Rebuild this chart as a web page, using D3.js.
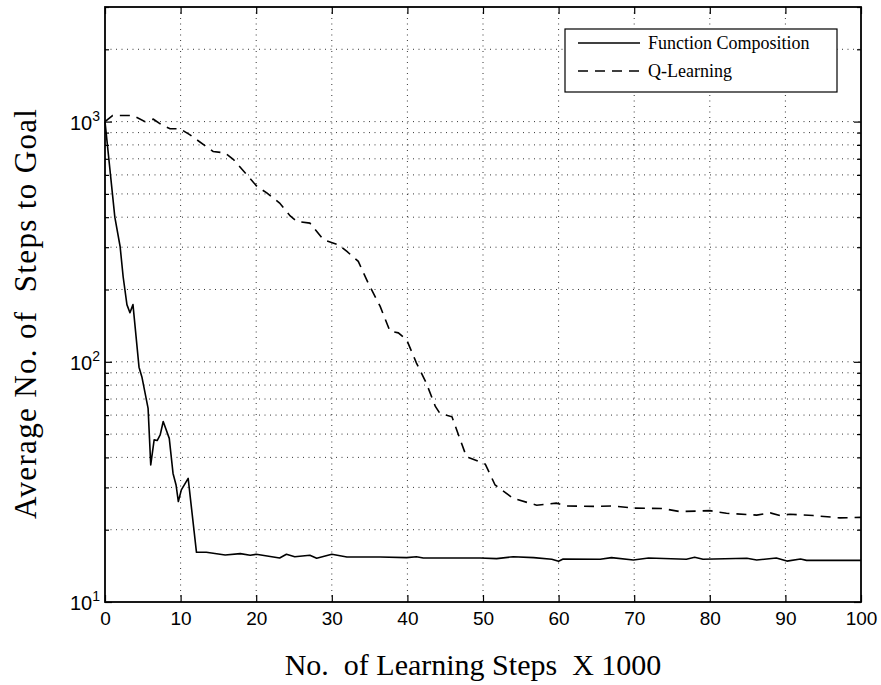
<!DOCTYPE html>
<html><head><meta charset="utf-8">
<script src="https://cdn.jsdelivr.net/npm/d3@7"></script>
<style>
html,body{margin:0;padding:0;background:#fff;}
svg{display:block;}
text{white-space:pre;}
</style></head>
<body>
<svg id="chart" width="881" height="685"></svg>
<script>
// ---- data ----
const fcX = [0, 1.3, 2.0, 2.4, 2.9, 3.3, 3.7, 4.5, 4.9, 5.7, 6.05, 6.5, 6.9, 7.3, 7.7, 8.5, 9.0, 9.4, 9.7, 10.1, 11.0, 12.1, 13.4, 15.9, 17.9, 19.2, 20, 23.1, 24, 25.1, 27.1, 28, 30, 32, 36.4, 39.9, 41.2, 42.1, 49.6, 51.8, 54, 56.7, 59.1, 60, 60.6, 65.5, 67, 69.9, 71.9, 76.9, 78, 79.1, 84.9, 86.2, 88.8, 90.2, 92, 92.8, 96.3, 100];
const fcY = [1000, 400, 302, 226, 173, 160, 173, 95, 86, 64, 37.2, 47.3, 47, 49.6, 56.4, 48, 34.3, 30.7, 26.2, 29.3, 32.7, 16.1, 16.1, 15.7, 15.9, 15.65, 15.8, 15.25, 15.8, 15.44, 15.65, 15.2, 15.8, 15.4, 15.4, 15.3, 15.44, 15.25, 15.25, 15.15, 15.44, 15.3, 15.06, 14.77, 15.1, 15.06, 15.3, 14.96, 15.25, 15.06, 15.35, 15.06, 15.2, 14.96, 15.25, 14.8, 15.1, 14.9, 14.9, 14.9];
const qlX = [0, 1, 3.7, 5.3, 6.4, 7.5, 8.6, 9.9, 11.2, 14.3, 15.9, 17, 20.1, 21.4, 23.1, 24.5, 25.4, 27.1, 28.9, 30.9, 32, 33.5, 34.8, 36.4, 37.7, 38.8, 39.9, 41.2, 42.5, 43.7, 44.3, 45.9, 47, 47.8, 49.4, 50.3, 51.6, 54, 57.1, 59.7, 61, 65, 67.2, 69.9, 73.8, 76, 80, 82.2, 86.2, 88, 89.3, 90.6, 93.7, 97.2, 100];
const qlY = [1000, 1060, 1060, 1000, 1023, 970, 934, 934, 883, 751, 740, 695, 537, 505, 458, 405, 384, 378, 322, 307, 288, 262, 213, 170, 134, 132, 123.6, 98.8, 81.5, 65.2, 61, 59, 47.3, 40.3, 38.5, 37.5, 30.7, 27.0, 25.3, 25.8, 25.1, 25.0, 25.1, 24.6, 24.5, 23.8, 24.0, 23.4, 23.0, 23.5, 22.9, 23.2, 22.9, 22.4, 22.5];
const xTicks = [0, 10, 20, 30, 40, 50, 60, 70, 80, 90, 100];
const yMajorTicks = [10, 100, 1000];
const yExponents = ["1", "2", "3"];
const seriesNames = ["Function Composition", "Q-Learning"];
const xLabel = "No.  of Learning Steps  X 1000";
const yLabel = "Average No. of  Steps to Goal";

// ---- layout ----
const L = 105, R = 861, T = 7, B = 602;
const svg = d3.select("#chart");
const x = d3.scaleLinear().domain([0, 100]).range([L, R]);
const y = d3.scaleLog().domain([10, 3000]).range([B, T]);

// minor log ticks
const yMinor = [];
for (let d = 10; d < 3000; d *= 10) for (let k = 2; k <= 9; k++) { const v = k * d; if (v <= 3000) yMinor.push(v); }

// grid
const grid = svg.append("g").attr("stroke", "#000").attr("stroke-width", 0.8).attr("stroke-dasharray", "1,4.5").attr("fill", "none");
xTicks.slice(1, -1).forEach(v => grid.append("line").attr("x1", x(v)).attr("x2", x(v)).attr("y1", B).attr("y2", T));
yMajorTicks.concat(yMinor).filter(v => v > 10 && v < 3000).forEach(v => grid.append("line").attr("x1", L).attr("x2", R).attr("y1", y(v)).attr("y2", y(v)));

// data lines
const line = d3.line().x(d => x(d[0])).y(d => y(d[1]));
svg.append("path").datum(d3.zip(fcX, fcY)).attr("d", line).attr("fill", "none").attr("stroke", "#000").attr("stroke-width", 1.6).attr("stroke-linejoin", "round");
svg.append("path").datum(d3.zip(qlX, qlY)).attr("d", line).attr("fill", "none").attr("stroke", "#000").attr("stroke-width", 1.6).attr("stroke-dasharray", "10,7");

// axes (ticks inward)
const fontTick = "'Liberation Sans', Arial, Helvetica, sans-serif";
const gx = svg.append("g").attr("transform", `translate(0,${B})`)
  .call(d3.axisBottom(x).tickValues(xTicks).tickSizeInner(-7).tickSizeOuter(0).tickPadding(10).tickFormat(d3.format("d")));
gx.select(".domain").remove();
gx.selectAll("text").attr("font-family", fontTick).attr("font-size", 19).attr("fill", "#000");
const gxt = svg.append("g").attr("transform", `translate(0,${T})`)
  .call(d3.axisTop(x).tickValues(xTicks).tickSizeInner(-7).tickSizeOuter(0).tickFormat(""));
gxt.select(".domain").remove();

const gy = svg.append("g").attr("transform", `translate(${L},0)`)
  .call(d3.axisLeft(y).tickValues(yMajorTicks).tickSizeInner(-7).tickSizeOuter(0).tickFormat(""));
gy.select(".domain").remove();
const gym = svg.append("g").attr("transform", `translate(${L},0)`)
  .call(d3.axisLeft(y).tickValues(yMinor).tickSizeInner(-4).tickSizeOuter(0).tickFormat(""));
gym.select(".domain").remove();
const gyr = svg.append("g").attr("transform", `translate(${R},0)`)
  .call(d3.axisRight(y).tickValues(yMajorTicks).tickSizeInner(-7).tickSizeOuter(0).tickFormat(""));
gyr.select(".domain").remove();
const gyrm = svg.append("g").attr("transform", `translate(${R},0)`)
  .call(d3.axisRight(y).tickValues(yMinor).tickSizeInner(-4).tickSizeOuter(0).tickFormat(""));
gyrm.select(".domain").remove();
svg.selectAll(".tick line").attr("stroke", "#000").attr("stroke-width", 1.2);

// y tick labels 10^k
yMajorTicks.forEach((v, i) => {
  const t = svg.append("text").attr("x", L - 5).attr("y", y(v) + 8).attr("text-anchor", "end")
    .attr("font-family", fontTick).attr("font-size", 20).attr("fill", "#000");
  t.append("tspan").text("10");
  t.append("tspan").attr("font-size", 14).attr("dy", -9).text(yExponents[i]);
});

// box
svg.append("rect").attr("x", L).attr("y", T).attr("width", R - L).attr("height", B - T)
  .attr("fill", "none").attr("stroke", "#000").attr("stroke-width", 1.8);

// legend
const lg = svg.append("g");
lg.append("rect").attr("x", 565).attr("y", 29).attr("width", 272).attr("height", 63)
  .attr("fill", "#fff").attr("stroke", "#000").attr("stroke-width", 1.2);
const dashes = [null, "10,7"];
seriesNames.forEach((n, i) => {
  const yy = 43 + i * 28;
  const l = lg.append("line").attr("x1", 578).attr("x2", 640).attr("y1", yy).attr("y2", yy)
    .attr("stroke", "#000").attr("stroke-width", 1.6);
  if (dashes[i]) l.attr("stroke-dasharray", dashes[i]);
  lg.append("text").attr("x", 648).attr("y", yy + 6).text(n)
    .attr("font-family", "'Liberation Serif', 'Times New Roman', serif").attr("font-size", 18).attr("fill", "#000");
});

// axis labels
svg.append("text").attr("x", (L + R) / 2 - 10).attr("y", 675).attr("text-anchor", "middle")
  .attr("font-family", "'Liberation Serif', 'Times New Roman', serif").attr("font-size", 30).attr("fill", "#000").text(xLabel);
svg.append("text").attr("transform", `translate(36,314) rotate(-90)`).attr("text-anchor", "middle")
  .attr("textLength", 410).attr("lengthAdjust", "spacing")
  .attr("font-family", "'Liberation Serif', 'Times New Roman', serif").attr("font-size", 31).attr("fill", "#000").text(yLabel);
</script>
</body></html>
